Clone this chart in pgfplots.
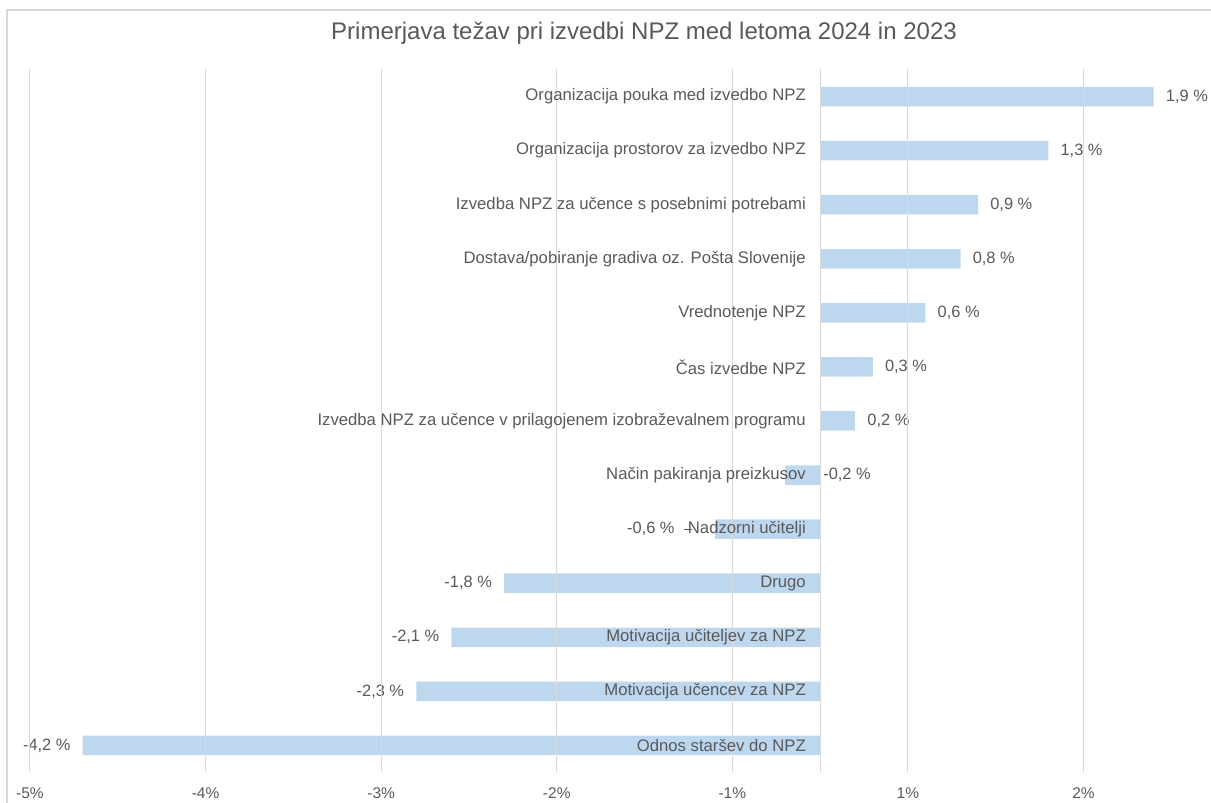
\documentclass[border=0pt]{standalone}
\usepackage{pgfplots}
\pgfplotsset{compat=1.18}
\usepackage{fontspec}
\setmainfont{Liberation Sans}

\definecolor{barblue}{HTML}{BDD7EE}
\definecolor{gridgray}{HTML}{D9D9D9}
\definecolor{txtgray}{HTML}{595959}

\begin{document}
\begin{tikzpicture}[lab/.style={txtgray, font=\fontsize{16.4}{19}\selectfont, inner sep=0pt}]
\path[use as bounding box] (0,0) rectangle (1211pt,803pt);
% chart frame and title
\draw[gridgray, line width=1.5pt] (7pt,-20pt) rectangle (1250pt,793pt);
\node[txtgray, font=\fontsize{24}{28}\selectfont] at (644pt,770pt)
  {Primerjava težav pri izvedbi NPZ med letoma 2024 in 2023};

\begin{axis}[
    at={(30pt,30.5pt)}, anchor=south west,
    scale only axis, width=1176.5pt, height=703pt,
    xbar, bar width=19.5pt,
    xmin=-4.5, xmax=2.2, ymin=-0.5, ymax=12.5,
    axis x line=bottom, axis y line=middle,
    x axis line style={draw=none},
    y axis line style={gridgray, line width=1pt, -},
    axis on top,
    xtick={-4.5,-3.5,-2.5,-1.5,-0.5,0.5,1.5},
    xticklabels={-5\%,-4\%,-3\%,-2\%,-1\%,1\%,2\%},
    xmajorgrids, grid style={gridgray, line width=1pt},
    ytick={0,...,12},
    yticklabels={Odnos staršev do NPZ, Motivacija učencev za NPZ,
        Motivacija učiteljev za NPZ, Drugo, Nadzorni učitelji,
        Način pakiranja preizkusov,
        Izvedba NPZ za učence v prilagojenem izobraževalnem programu,
        Čas izvedbe NPZ, Vrednotenje NPZ,
        Dostava/pobiranje gradiva oz. Pošta Slovenije,
        Izvedba NPZ za učence s posebnimi potrebami,
        Organizacija prostorov za izvedbo NPZ,
        Organizacija pouka med izvedbo NPZ},
    tick style={draw=none},
    yticklabel style={txtgray, font=\fontsize{16.7}{19}\selectfont, inner sep=0pt, xshift=-12pt},
    xticklabel style={txtgray, font=\fontsize{15.5}{18}\selectfont, inner sep=0pt, yshift=-13pt},
    clip=false,
]
\addplot[fill=barblue, draw=none] coordinates {
    (-4.2,0) (-2.3,1) (-2.1,2) (-1.8,3) (-0.6,4) (-0.2,5) (0.2,6)
    (0.3,7) (0.6,8) (0.8,9) (0.9,10) (1.3,11) (1.9,12)};

% data labels
\node[lab, anchor=west, xshift=12pt] at (axis cs:1.9,12) {1,9 \%};
\node[lab, anchor=west, xshift=12pt] at (axis cs:1.3,11) {1,3 \%};
\node[lab, anchor=west, xshift=12pt] at (axis cs:0.9,10) {0,9 \%};
\node[lab, anchor=west, xshift=12pt] at (axis cs:0.8,9) {0,8 \%};
\node[lab, anchor=west, xshift=12pt] at (axis cs:0.6,8) {0,6 \%};
\node[lab, anchor=west, xshift=12pt] at (axis cs:0.3,7) {0,3 \%};
\node[lab, anchor=west, xshift=12pt] at (axis cs:0.2,6) {0,2 \%};
\node[lab, anchor=west, xshift=3pt] at (axis cs:0,5) {-0,2 \%};
\node[lab, anchor=east, xshift=-40pt] at (axis cs:-0.6,4) {-0,6 \%};
\draw[txtgray, line width=0.8pt] ([xshift=-31pt]axis cs:-0.6,4) -- ([xshift=-23pt]axis cs:-0.6,4);
\node[lab, anchor=east, xshift=-12pt] at (axis cs:-1.8,3) {-1,8 \%};
\node[lab, anchor=east, xshift=-12pt] at (axis cs:-2.1,2) {-2,1 \%};
\node[lab, anchor=east, xshift=-12pt] at (axis cs:-2.3,1) {-2,3 \%};
\node[lab, anchor=east, xshift=-12pt] at (axis cs:-4.2,0) {-4,2 \%};
\end{axis}
\end{tikzpicture}
\end{document}
